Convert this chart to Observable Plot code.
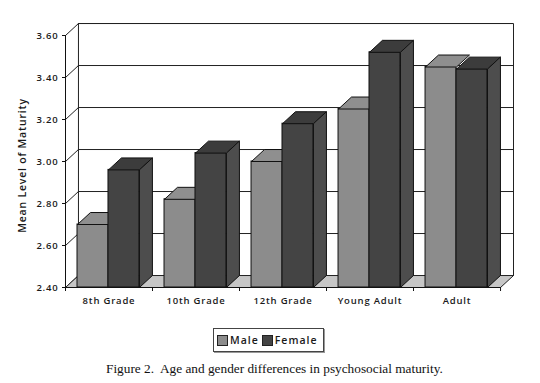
<!DOCTYPE html>
<html>
<head>
<meta charset="utf-8">
<script src="https://cdn.jsdelivr.net/npm/d3@7"></script>
<script src="https://cdn.jsdelivr.net/npm/@observablehq/plot@0.6"></script>
<style>
  html, body { margin: 0; padding: 0; background: #fff; }
  #wrap { position: relative; width: 540px; height: 383px; overflow: hidden; background: #fff; }
  #chart svg text { letter-spacing: 0.8px; font-weight: 600; fill: #1a1a1a; }
  #legend { position: absolute; left: 213px; top: 328px; width: 109px; height: 22px;
    border: 1px solid #444; box-shadow: 1px 1px 0 #999; display: flex; align-items: center;
    font-family: "Open Sans", sans-serif; font-size: 10.5px; font-weight: 600; letter-spacing: 1px; color: #1a1a1a; }
  #legend .sw { display: inline-block; width: 9px; height: 9px; border: 1px solid #222; margin: 0 2px 0 3px; }
  #caption { position: absolute; left: 106px; top: 361px; font-family: "Liberation Serif", serif;
    font-size: 13.3px; color: #111; white-space: nowrap; }
</style>
</head>
<body>
<div id="wrap">
  <div id="chart"></div>
  <div id="legend"></div>
  <div id="caption">Figure 2.&nbsp; Age and gender differences in psychosocial maturity.</div>
</div>
<script>
const categories = ["8th Grade", "10th Grade", "12th Grade", "Young Adult", "Adult"];
const male = [2.70, 2.82, 3.00, 3.25, 3.45];
const female = [2.96, 3.04, 3.18, 3.52, 3.44];
const yTicks = [2.40, 2.60, 2.80, 3.00, 3.20, 3.40, 3.60];
const seriesNames = ["Male", "Female"];
const seriesColors = ["#8c8c8c", "#444444"];

// 3D depth offsets (in scale units)
const DX = 0.149, DY = 0.057;
const Y0 = 2.4, YTOP = 3.6, N = categories.length;
const OFF = 0.138, BW = 0.356;

const maleBars = categories.map((c, i) => ({x1: i + OFF, x2: i + OFF + BW, v: male[i]}));
const femaleBars = categories.map((c, i) => ({x1: i + OFF + BW, x2: i + OFF + 2 * BW, v: female[i]}));

function topFace(b, id) {
  return [[b.x1, b.v], [b.x2, b.v], [b.x2 + DX, b.v + DY], [b.x1 + DX, b.v + DY], [b.x1, b.v]]
    .map(([x, y]) => ({id, x, y}));
}
function sideFace(b, id) {
  return [[b.x2, Y0], [b.x2, b.v], [b.x2 + DX, b.v + DY], [b.x2 + DX, Y0 + DY], [b.x2, Y0]]
    .map(([x, y]) => ({id, x, y}));
}
const maleTops = maleBars.flatMap((b, i) => topFace(b, "m" + i));
const femaleTops = femaleBars.flatMap((b, i) => topFace(b, "f" + i));
const femaleSides = femaleBars.flatMap((b, i) => sideFace(b, "s" + i));
const floor = [[0, Y0], [N, Y0], [N + DX, Y0 + DY], [DX, Y0 + DY], [0, Y0]].map(([x, y]) => ({x, y}));
const wallFrame = [[DX, Y0 + DY], [DX, YTOP + DY], [N + DX, YTOP + DY], [N + DX, Y0 + DY]].map(([x, y]) => ({x, y}));

const chart = Plot.plot({
  width: 540,
  height: 383,
  marginLeft: 65,
  marginRight: 27,
  marginTop: 35,
  marginBottom: 96,
  style: {fontFamily: "Open Sans, sans-serif", fontSize: "9.5px", background: "white", overflow: "visible"},
  x: {domain: [0, N + DX], axis: null},
  y: {domain: [Y0, YTOP], axis: null},
  marks: [
    // back wall gridlines
    Plot.ruleY(yTicks.slice(1), {y: d => d + DY, x1: DX, x2: N + DX, stroke: "#222", strokeWidth: 1}),
    // left wall diagonal gridlines
    Plot.link(yTicks, {x1: 0, y1: d => d, x2: DX, y2: d => d + DY, stroke: "#222", strokeWidth: 1}),
    // back wall frame
    Plot.line(wallFrame, {x: "x", y: "y", stroke: "#222", strokeWidth: 1}),
    // floor
    Plot.line(floor, {x: "x", y: "y", fill: "#c6c6c6", stroke: "#222", strokeWidth: 1}),
    // bars
    Plot.rect(maleBars, {x1: "x1", x2: "x2", y1: Y0, y2: "v", fill: seriesColors[0], stroke: "#111", strokeWidth: 1}),
    Plot.line(maleTops, {x: "x", y: "y", z: "id", fill: "#8f8f8f", stroke: "#111", strokeWidth: 1}),
    Plot.rect(femaleBars, {x1: "x1", x2: "x2", y1: Y0, y2: "v", fill: seriesColors[1], stroke: "#111", strokeWidth: 1}),
    Plot.line(femaleTops, {x: "x", y: "y", z: "id", fill: "#3c3c3c", stroke: "#111", strokeWidth: 1}),
    Plot.line(femaleSides, {x: "x", y: "y", z: "id", fill: "#4d4d4d", stroke: "#111", strokeWidth: 1}),
    // front axes
    Plot.ruleX([0], {y1: Y0, y2: YTOP, stroke: "#111"}),
    Plot.ruleY([Y0], {x1: 0, x2: N, stroke: "#111"}),
    Plot.axisY({ticks: yTicks, tickFormat: d => d.toFixed(2), tickSize: 3, tickPadding: 4, label: null, stroke: "#111"}),
    Plot.axisX({ticks: d3.range(N + 1), tickFormat: () => "", tickSize: 4, label: null, stroke: "#111"}),
    Plot.text(categories, {x: (d, i) => i + 0.5, y: Y0, dy: 13, text: d => d, lineAnchor: "middle"}),
    Plot.text(["Mean Level of Maturity"], {frameAnchor: "left", textAnchor: "middle", dx: -43, dy: 4, rotate: -90, fontSize: 10.5, text: d => d})
  ]
});
document.getElementById("chart").appendChild(chart);

const legend = document.getElementById("legend");
seriesNames.forEach((name, i) => {
  const sw = document.createElement("span");
  sw.className = "sw";
  sw.style.background = seriesColors[i];
  legend.appendChild(sw);
  const t = document.createElement("span");
  t.textContent = name;
  legend.appendChild(t);
});
</script>
</body>
</html>
